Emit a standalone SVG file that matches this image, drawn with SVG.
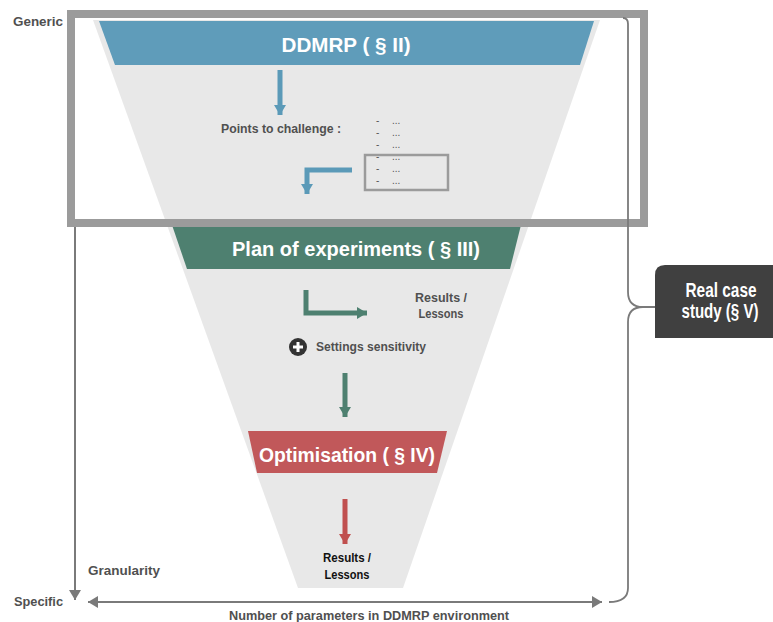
<svg xmlns="http://www.w3.org/2000/svg" width="773" height="622" viewBox="0 0 773 622">
<style>
.lbl{font-family:"Liberation Sans",Arial,sans-serif;font-weight:bold;fill:#505050;font-size:12px}
.band{font-family:"Liberation Sans",Arial,sans-serif;font-weight:bold;fill:#ffffff;font-size:20px}
.dash{font-family:"Liberation Sans",Arial,sans-serif;fill:#555;font-size:10px}
.axis{stroke:#7a7a7a;stroke-width:2;fill:none}
</style>
<defs>
<marker id="ah" markerUnits="userSpaceOnUse" markerWidth="12" markerHeight="12" refX="10" refY="6" orient="auto-start-reverse"><path d="M0,0 L10,6 L0,12 Z" fill="#7a7a7a"/></marker>
<marker id="hb" markerUnits="userSpaceOnUse" markerWidth="14" markerHeight="14" refX="10" refY="7" orient="auto"><path d="M0,1 L10,7 L0,13 Z" fill="#5b9ab8"/></marker>
<marker id="hg" markerUnits="userSpaceOnUse" markerWidth="14" markerHeight="14" refX="10" refY="7" orient="auto"><path d="M0,1 L10,7 L0,13 Z" fill="#4e8070"/></marker>
<marker id="hr" markerUnits="userSpaceOnUse" markerWidth="14" markerHeight="14" refX="10" refY="7" orient="auto"><path d="M0,1 L10,7 L0,13 Z" fill="#c0504f"/></marker>
</defs>
<rect width="773" height="622" fill="#ffffff"/>
<g id="funnel"><polygon points="93,20 600,20 403,588 298,588" fill="#e8e8e8"/></g>
<g id="ddmrp">
<polygon points="99,21 594,21 580,65 115,65" fill="#5f9cba"/>
<text class="band" x="346" y="52" text-anchor="middle" font-size="21" textLength="129" lengthAdjust="spacingAndGlyphs">DDMRP ( § II)</text>
</g>
<g id="points">
<text class="lbl" x="221" y="133" textLength="120" lengthAdjust="spacingAndGlyphs">Points to challenge :</text>
<g class="dash">
<text x="376" y="124">-</text><text x="392" y="124">...</text>
<text x="376" y="136">-</text><text x="392" y="136">...</text>
<text x="376" y="148">-</text><text x="392" y="148">...</text>
<text x="376" y="160">-</text><text x="392" y="160">...</text>
<text x="376" y="172">-</text><text x="392" y="172">...</text>
<text x="376" y="184">-</text><text x="392" y="184">...</text>
</g>
<rect x="365" y="155" width="83" height="35" fill="none" stroke="#9b9b9b" stroke-width="2.5"/>
</g>
<g id="plan">
<polygon points="172,225 521,225 510,269 187,269" fill="#4e8070"/>
<text class="band" x="356" y="256" text-anchor="middle" textLength="248" lengthAdjust="spacingAndGlyphs">Plan of experiments ( § III)</text>
</g>
<g id="results1">
<text class="lbl" x="441" y="302" text-anchor="middle" textLength="52" lengthAdjust="spacingAndGlyphs">Results /</text>
<text class="lbl" x="441" y="318" text-anchor="middle" textLength="45" lengthAdjust="spacingAndGlyphs">Lessons</text>
</g>
<g id="settings">
<circle cx="298" cy="347" r="9" fill="#333"/>
<path d="M293,347 H303 M298,342 V352" stroke="#fff" stroke-width="3"/>
<text class="lbl" x="316" y="351" textLength="110" lengthAdjust="spacingAndGlyphs">Settings sensitivity</text>
</g>
<g id="optimisation">
<polygon points="248,431 447,431 437,473 257,473" fill="#c1585a"/>
<text class="band" x="347" y="462" text-anchor="middle" font-size="22" textLength="176" lengthAdjust="spacingAndGlyphs">Optimisation ( § IV)</text>
</g>
<g id="results2">
<text class="lbl" x="347" y="562" text-anchor="middle" fill="#111" style="fill:#111" textLength="48" lengthAdjust="spacingAndGlyphs">Results /</text>
<text class="lbl" x="347" y="579" text-anchor="middle" style="fill:#111" textLength="45" lengthAdjust="spacingAndGlyphs">Lessons</text>
</g>
<g id="frame"><rect x="71" y="14" width="573" height="209" fill="none" stroke="#9b9b9b" stroke-width="8"/></g>
<g id="realcase">
<path d="M665,265 H773 V338 H655 V275 Q655,265 665,265 Z" fill="#404040"/>
<text class="band" x="721" y="297" text-anchor="middle" font-size="15" textLength="71" lengthAdjust="spacingAndGlyphs">Real case</text>
<text class="band" x="720" y="318" text-anchor="middle" font-size="15" textLength="77" lengthAdjust="spacingAndGlyphs">study (§ V)</text>
</g>
<g id="axislabels">
<text class="lbl" x="13" y="26" textLength="50" lengthAdjust="spacingAndGlyphs">Generic</text>
<text class="lbl" x="14" y="606" textLength="49" lengthAdjust="spacingAndGlyphs">Specific</text>
<text class="lbl" x="88" y="575" textLength="72" lengthAdjust="spacingAndGlyphs">Granularity</text>
<text class="lbl" x="229" y="620" textLength="280" lengthAdjust="spacingAndGlyphs">Number of parameters in DDMRP environment</text>
</g>
<g id="connectors">
<path d="M280,70 V115" stroke="#5b9ab8" stroke-width="5" fill="none" marker-end="url(#hb)"/>
<path d="M352,170 H307 V194" stroke="#5b9ab8" stroke-width="5" fill="none" marker-end="url(#hb)"/>
<path d="M306,290 V313 H367" stroke="#4e8070" stroke-width="5" fill="none" marker-end="url(#hg)"/>
<path d="M345,373 V417" stroke="#4e8070" stroke-width="5" fill="none" marker-end="url(#hg)"/>
<path d="M345,499 V544" stroke="#c0504f" stroke-width="5" fill="none" marker-end="url(#hr)"/>
<path class="axis" d="M75,227 V600" marker-end="url(#ah)"/>
<path class="axis" d="M88,602 H602" marker-start="url(#ah)" marker-end="url(#ah)"/>
<path d="M623,18 Q628,18 628,24 L628,292 Q628,307 643,307 L655,307 M643,307 Q628,307 628,322 L628,588 Q628,602 609,602" stroke="#7a7a7a" stroke-width="1.8" fill="none"/>
</g>
</svg>
